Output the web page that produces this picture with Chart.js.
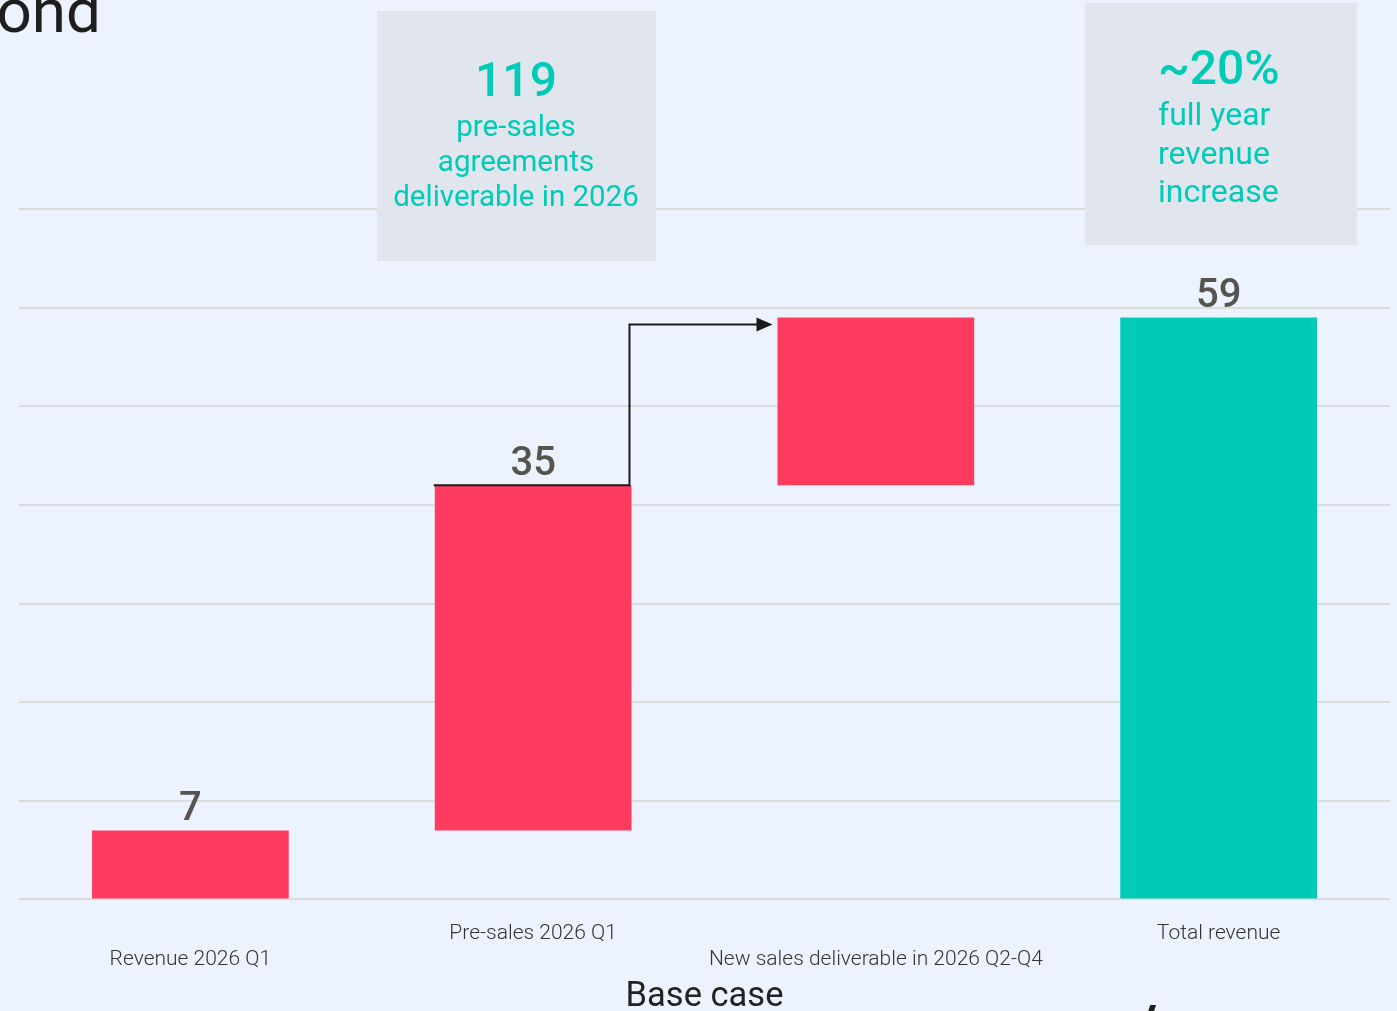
<!DOCTYPE html>
<html>
<head>
<meta charset="utf-8">
<script src="https://cdn.jsdelivr.net/npm/chart.js@4.4.1/dist/chart.umd.min.js"></script>
<style>
  html, body { margin: 0; padding: 0; background: #edf3fe; overflow: hidden; }
  #wrap { position: relative; width: 1397px; height: 1015px; }
</style>
</head>
<body>
<div id="wrap"><canvas id="myChart"></canvas></div>
<script>
// waterfall data
const categories = ["Revenue 2026 Q1", "Pre-sales 2026 Q1", "New sales deliverable in 2026 Q2-Q4", "Total revenue"];
const values = [7, 35, 17, 59];
const isTotal = [false, false, false, true];
const valueLabels = ["7", "35", "", "59"];
const yTicks = [0, 10, 20, 30, 40, 50, 60, 70];

const red = "#ff3b5f";
const teal = "#00cbb6";

// build floating bars from the steps
let running = 0;
const bars = values.map((v, i) => {
  if (isTotal[i]) return [0, v];
  const b = [running, running + v];
  running += v;
  return b;
});

const overlay = {
  id: "overlay",
  afterDatasetsDraw(chart) {
    const c = chart.ctx;
    const meta = chart.getDatasetMeta(0);
    const y = chart.scales.y;

    // value labels above bars
    c.save();
    c.font = "500 40px Roboto";
    c.fillStyle = "#55554f";
    c.textAlign = "center";
    c.textBaseline = "alphabetic";
    meta.data.forEach((bar, i) => {
      if (valueLabels[i]) c.fillText(valueLabels[i], bar.x, bar.y - 10);
    });
    c.restore();

    // step arrow from pre-sales to new sales
    const b2 = meta.data[1];
    const b3 = meta.data[2];
    const turnX = b2.x + b2.width / 2 - 2;
    const topY = y.getPixelForValue(values[3]) + 7;
    const tipX = b3.x - b3.width / 2 - 5;
    c.save();
    c.strokeStyle = "#1a1a1a";
    c.fillStyle = "#1a1a1a";
    c.lineWidth = 2;
    c.beginPath();
    c.moveTo(b2.x - b2.width / 2 - 1, b2.y);
    c.lineTo(turnX, b2.y);
    c.lineTo(turnX, topY);
    c.lineTo(tipX - 14, topY);
    c.stroke();
    c.beginPath();
    c.moveTo(tipX, topY);
    c.lineTo(tipX - 16, topY - 7);
    c.lineTo(tipX - 16, topY + 7);
    c.closePath();
    c.fill();
    c.restore();

    // callout boxes
    c.save();
    c.fillStyle = "#e1e6ee";
    c.fillRect(377, 11, 279, 250);
    c.fillRect(1085, 3, 272, 242);
    c.fillStyle = teal;
    c.textBaseline = "alphabetic";
    c.textAlign = "center";
    c.font = "500 48px Roboto";
    c.fillText("119", 516, 96);
    c.font = "400 29.5px Roboto";
    c.fillText("pre-sales", 516, 136);
    c.fillText("agreements", 516, 171);
    c.fillText("deliverable in 2026", 516, 206);
    c.textAlign = "left";
    c.font = "500 48px Roboto";
    c.fillText("~20%", 1158, 84);
    c.font = "400 32px Roboto";
    c.fillText("full year", 1158, 125);
    c.fillText("revenue", 1158, 164);
    c.fillText("increase", 1158, 202);
    c.restore();

    // page fragments around the chart
    c.save();
    c.fillStyle = "#1e1e1e";
    c.font = "400 62px Roboto";
    c.textAlign = "right";
    c.textBaseline = "alphabetic";
    c.fillText("ond", 101, 32);
    c.font = "700 56px Roboto";
    c.textAlign = "left";
    c.fillText("/", 1136, 1045);
    c.restore();
  },
};

const ctx = document.getElementById("myChart");

const myChart = new Chart(ctx, {
  type: "bar",
  data: {
    labels: categories,
    datasets: [
      {
        data: bars,
        backgroundColor: isTotal.map((t) => (t ? teal : red)),
        borderWidth: 0,
        categoryPercentage: 1,
        barPercentage: 0.574,
      },
    ],
  },
  options: {
    responsive: true,
    maintainAspectRatio: false,
    animation: false,
    layout: {
      padding: { top: 209, left: 19, right: 7, bottom: 0 },
    },
    scales: {
      x: {
        grid: { display: false },
        border: { display: false },
        ticks: {
          autoSkip: false,
          maxRotation: 0,
          padding: 13,
          color: "#333333",
          font: { family: "Roboto", size: 21, weight: 300, lineHeight: 1.24 },
          callback: function (value, index) {
            const label = categories[index];
            return index % 2 === 0 ? ["", label] : label;
          },
        },
        title: {
          display: true,
          text: "Base case",
          color: "#222222",
          font: { family: "Roboto", size: 34.5, weight: 400, lineHeight: 1 },
          padding: { top: -5, bottom: 0 },
        },
      },
      y: {
        min: yTicks[0],
        max: yTicks[yTicks.length - 1],
        afterBuildTicks: (axis) => {
          axis.ticks = yTicks.map((v) => ({ value: v }));
        },
        ticks: { display: false },
        border: { display: false },
        grid: { color: "#dcdcdc", lineWidth: 2, drawTicks: false },
      },
    },
    plugins: {
      legend: { display: false },
      tooltip: { enabled: false },
    },
  },
  plugins: [overlay],
});
</script>
</body>
</html>
